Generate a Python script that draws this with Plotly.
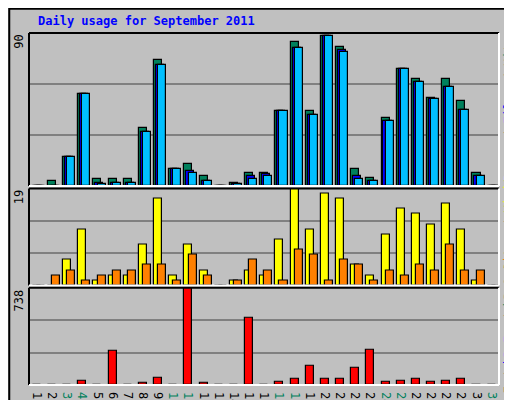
import plotly.graph_objects as go

# Webalizer-style daily usage, September 2011
days = list(range(1, 32))
hits = [0, 3, 17, 54, 4, 4, 4, 34, 74, 10, 13, 6, 0, 2, 8, 8, 44, 85, 44, 88, 82, 10, 5, 40, 69, 63, 52, 63, 50, 8, 0]
files = [0, 0, 17, 54, 2, 2, 2, 32, 71, 10, 9, 3, 0, 1, 6, 7, 44, 81, 42, 88, 80, 6, 3, 38, 69, 61, 51, 58, 45, 6, 0]
pages = [0, 0, 17, 54, 1, 2, 2, 32, 71, 10, 8, 3, 0, 1, 4, 6, 44, 81, 42, 88, 79, 4, 3, 38, 69, 61, 51, 58, 45, 6, 0]
visits = [0, 0, 5, 11, 1, 2, 2, 8, 17, 2, 8, 3, 0, 1, 3, 2, 9, 19, 11, 18, 17, 4, 2, 10, 15, 14, 12, 16, 11, 1, 0]
sites = [0, 2, 3, 1, 2, 3, 3, 4, 4, 1, 6, 2, 0, 1, 5, 3, 1, 7, 6, 1, 5, 4, 1, 3, 2, 4, 3, 8, 3, 3, 0]
kbf = [0, 3, 3, 35, 3, 261, 3, 19, 51, 3, 738, 19, 0, 3, 511, 3, 27, 43, 148, 43, 43, 132, 269, 27, 35, 43, 27, 35, 43, 3, 0]
weekends = [3, 4, 10, 11, 17, 18, 24, 25, 31]

GREEN, BLUE, CYAN = "#00805c", "#0000ff", "#00c0ff"
YELLOW, ORANGE, RED = "#ffff00", "#ff8000", "#ff0000"
FONT = "DejaVu Sans Mono"

fig = go.Figure()

def bars(vals, color, off, xaxis, yaxis, w=0.53):
    fig.add_trace(go.Bar(x=days, y=vals, offset=off, width=w, marker_color=color,
                         marker_line=dict(color="black", width=1.2), xaxis=xaxis, yaxis=yaxis,
                         showlegend=False))

bars(hits, GREEN, -0.40, "x", "y")
bars(files, BLUE, -0.27, "x", "y")
bars(pages, CYAN, -0.13, "x", "y")
bars(visits, YELLOW, -0.40, "x2", "y2")
bars(sites, ORANGE, -0.13, "x2", "y2")
bars(kbf, RED, -0.40, "x3", "y3")

ticktext = [f"<span style='color:{GREEN}'>{d}</span>" if d in weekends else str(d) for d in days]

grid = dict(showticklabels=False, showgrid=True, gridcolor="#808080", gridwidth=1.5,
            zeroline=False, showline=False, fixedrange=True)
xr = [0.35, 31.35]
xhide = dict(range=xr, showticklabels=False, showgrid=False, zeroline=False, ticks="")

fig.update_layout(
    width=512, height=400,
    margin=dict(l=21, r=21, t=25, b=23, autoexpand=False),
    paper_bgcolor="#c0c0c0", plot_bgcolor="#c0c0c0",
    barmode="overlay", bargap=0,
    font=dict(family=FONT, size=12, color="black"),
    xaxis=dict(anchor="y", **xhide),
    xaxis2=dict(anchor="y2", **xhide),
    xaxis3=dict(anchor="y3", range=xr, tickvals=days, ticktext=ticktext, ticks="",
                showgrid=False, zeroline=False, tickfont=dict(size=12)),
    yaxis=dict(domain=[0.565, 1.0], range=[0, 90], tickvals=[30, 60], anchor="x", **grid),
    yaxis2=dict(domain=[0.283, 0.558], range=[0, 19], tickvals=[19 / 3, 38 / 3], anchor="x2", **grid),
    yaxis3=dict(domain=[0.0, 0.276], range=[0, 738], tickvals=[246, 492], anchor="x3", **grid),
)

# panel borders (dark top/left, white bottom/right)
for y0, y1 in [(0.565, 1.0), (0.283, 0.558), (0.0, 0.276)]:
    fig.add_shape(type="line", xref="paper", yref="paper", x0=0, x1=1, y0=y1, y1=y1, line=dict(color="black", width=2))
    fig.add_shape(type="line", xref="paper", yref="paper", x0=0, x1=0, y0=y0, y1=y1, line=dict(color="black", width=2))
    fig.add_shape(type="line", xref="paper", yref="paper", x0=0, x1=1, y0=y0, y1=y0, line=dict(color="white", width=2))
    fig.add_shape(type="line", xref="paper", yref="paper", x0=1, x1=1, y0=y0, y1=y1, line=dict(color="white", width=2))

# outer frame
fig.add_shape(type="rect", xref="paper", yref="paper", x0=-0.042, x1=1.042, y0=-0.064, y1=1.069,
              line=dict(color="black", width=2))

fig.add_annotation(text="<b>Daily usage for September 2011</b>", xref="paper", yref="paper",
                   x=0.015, y=1.035, xanchor="left", yanchor="middle", showarrow=False,
                   font=dict(family=FONT, size=12, color=BLUE))

for txt, y in [("90", 1.0), ("19", 0.558), ("738", 0.276)]:
    fig.add_annotation(text=txt, xref="paper", yref="paper", x=-0.022, y=y, textangle=-90,
                       xanchor="center", yanchor="top", showarrow=False, font=dict(size=12))

def sp(t, c):
    return f"<span style='color:{c}'>{t}</span>"

right = [
    (sp("Pages", CYAN) + " / " + sp("Files", BLUE) + " / " + sp("Hits", GREEN), 0.785),
    (sp("Sites", ORANGE) + " / " + sp("Visits", YELLOW), 0.47),
    (sp("kB F", RED) + " / " + sp("kB In", BLUE) + " / " + sp("kB Out", GREEN), 0.13),
]
for txt, y in right:
    fig.add_annotation(text=txt, xref="paper", yref="paper", x=1.021, y=y, textangle=-90,
                       xanchor="center", yanchor="middle", showarrow=False, font=dict(size=12))

fig.write_html("out.html")
